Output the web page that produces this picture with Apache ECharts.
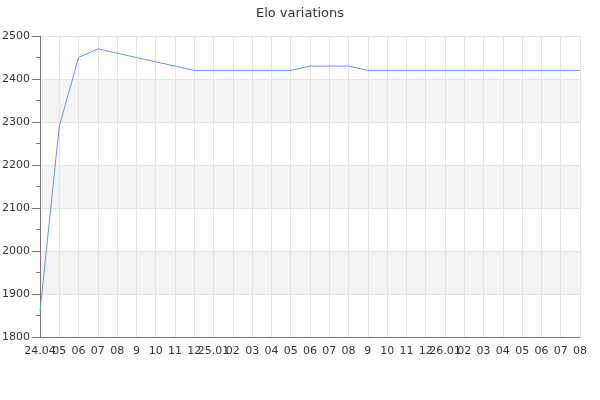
<!DOCTYPE html>
<html><head><meta charset="utf-8">
<script src="https://cdn.jsdelivr.net/npm/echarts@6/dist/echarts.min.js"></script>
<style>html,body{margin:0;padding:0;background:#fff}#c{width:600px;height:400px}</style>
</head><body><div id="c"></div>
<script>
var categories = ['24.04','05','06','07','08','9','10','11','12','25.01','02','03','04','05','06','07','08','9','10','11','12','26.01','02','03','04','05','06','07','08'];
var eloValues = [1860,2290,2450,2470,2460,2450,2440,2430,2420,2420,2420,2420,2420,2420,2430,2430,2430,2420,2420,2420,2420,2420,2420,2420,2420,2420,2420,2420,2420];
var yTicks = {min:1800, max:2500, interval:100};

var chart = echarts.init(document.getElementById('c'), null, {renderer:'canvas'});
chart.setOption({
  animation:false,
  title:{text:'Elo variations', left:'center', top:2, textStyle:{fontFamily:'DejaVu Sans', fontSize:13, fontWeight:'normal', color:'#333'}},
  grid:{left:40, right:20, top:36, bottom:63, containLabel:false, outerBoundsMode:'none'},
  xAxis:{
    type:'category', data:categories, boundaryGap:false,
    axisLine:{lineStyle:{color:'#777'}},
    axisTick:{show:false},
    axisLabel:{interval:0, color:'#333', fontFamily:'DejaVu Sans', fontSize:11, margin:9},
    splitLine:{show:true, lineStyle:{color:'#e3e3e3'}}
  },
  yAxis:{
    type:'value', min:yTicks.min, max:yTicks.max, interval:yTicks.interval,
    axisLine:{show:true, lineStyle:{color:'#777'}},
    axisTick:{show:true, length:8, lineStyle:{color:'#777'}},
    minorTick:{show:true, splitNumber:2, length:4, lineStyle:{color:'#777'}},
    axisLabel:{color:'#333', fontFamily:'DejaVu Sans', fontSize:11, margin:10, formatter:function(v){return String(v);}},
    splitLine:{show:true, lineStyle:{color:'#e3e3e3'}},
    splitArea:{show:true, areaStyle:{color:['#ffffff','#f3f3f3']}}
  },
  series:[{type:'line', data:eloValues, showSymbol:false, symbol:'none',
    lineStyle:{color:'#6495ed', width:1}}]
});
</script></body></html>
